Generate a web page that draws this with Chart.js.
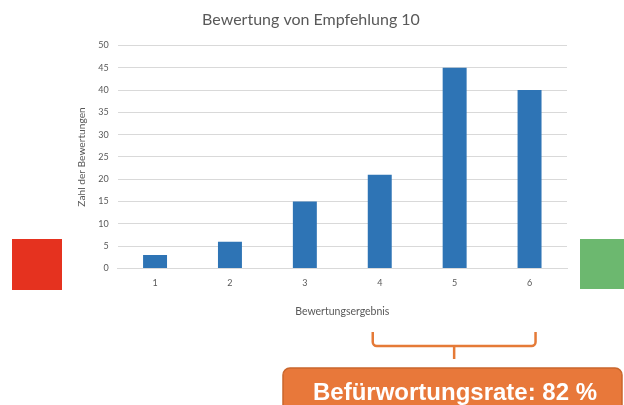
<!DOCTYPE html>
<html>
<head>
<meta charset="utf-8">
<script src="https://cdn.jsdelivr.net/npm/chart.js@4.4.0/dist/chart.umd.min.js"></script>
<style>
  html, body { margin: 0; padding: 0; background: #ffffff; overflow: hidden; }
  canvas { display: block; }
</style>
</head>
<body>
<canvas id="c" width="624" height="405"></canvas>
<script>
// Rating results for recommendation 10
const categories = ['1', '2', '3', '4', '5', '6'];
const counts = [3, 6, 15, 21, 45, 40];
const yMax = 50;
const yStep = 5;

const chartTitle = 'Bewertung von Empfehlung 10';
const xTitle = 'Bewertungsergebnis';
const yTitle = 'Zahl der Bewertungen';
const rateLabel = 'Befürwortungsrate';
// ratings counted as approval
const approvalCategories = ['4', '5', '6'];

const total = counts.reduce((a, b) => a + b, 0);
const approved = approvalCategories
  .map(c => counts[categories.indexOf(c)])
  .reduce((a, b) => a + b, 0);
const approvalRate = Math.round(approved / total * 100);

const labelFont = "Lato, 'Open Sans', sans-serif";
const gray = '#595959';

// Red/green end markers, the brace over the approval ratings and the rate box
const annotations = {
  id: 'annotations',
  afterDraw(chart) {
    const ctx = chart.ctx;
    const x = chart.scales.x;
    ctx.save();

    ctx.fillStyle = '#e5321f';
    ctx.fillRect(12, 239, 50, 51);
    ctx.fillStyle = '#6cb86f';
    ctx.fillRect(580, 239, 50, 50);

    const i0 = categories.indexOf(approvalCategories[0]);
    const i1 = categories.indexOf(approvalCategories[approvalCategories.length - 1]);
    const bl = x.getPixelForValue(i0) - 7;
    const br = x.getPixelForValue(i1) + 6;
    const mid = (bl + br) / 2;
    const top = 332, base = 346, r = 4;
    ctx.strokeStyle = '#e57a37';
    ctx.lineWidth = 2.5;
    ctx.lineCap = 'butt';
    ctx.beginPath();
    ctx.moveTo(bl, top);
    ctx.arcTo(bl, base, bl + r, base, r);
    ctx.lineTo(br - r, base);
    ctx.arcTo(br, base, br, top, r);
    ctx.lineTo(br, top);
    ctx.moveTo(mid, base);
    ctx.lineTo(mid, 359);
    ctx.stroke();

    ctx.beginPath();
    ctx.roundRect(283, 368, 339, 60, 7);
    ctx.fillStyle = '#e8783a';
    ctx.fill();
    ctx.strokeStyle = '#c9662c';
    ctx.lineWidth = 1.5;
    ctx.stroke();

    ctx.fillStyle = '#ffffff';
    ctx.font = "bold 24px 'Liberation Sans', Arial, sans-serif";
    ctx.textAlign = 'center';
    ctx.textBaseline = 'alphabetic';
    ctx.fillText(rateLabel + ': ' + approvalRate + ' %', 455, 400);
    ctx.restore();
  }
};

new Chart(document.getElementById('c'), {
  type: 'bar',
  data: {
    labels: categories,
    datasets: [{
      data: counts,
      backgroundColor: '#2e74b5',
      borderWidth: 0,
      categoryPercentage: 0.8,
      barPercentage: 0.4
    }]
  },
  options: {
    responsive: false,
    animation: false,
    devicePixelRatio: 1,
    layout: { padding: { left: 55, right: 57, top: 0, bottom: 87 } },
    plugins: {
      legend: { display: false },
      tooltip: { enabled: false },
      title: {
        display: true,
        text: chartTitle,
        color: gray,
        font: { family: labelFont, size: 16, weight: 'normal' },
        padding: { top: 10.4, bottom: 15.9 }
      }
    },
    scales: {
      x: {
        grid: { display: false, drawTicks: false },
        border: { display: true, color: '#d9d9d9', width: 1 },
        ticks: { color: gray, font: { family: labelFont, size: 9 }, padding: 9.6 },
        title: {
          display: true,
          text: xTitle,
          color: gray,
          font: { family: labelFont, size: 10.5 },
          padding: { top: 7, bottom: 0 }
        }
      },
      y: {
        min: 0,
        max: yMax,
        afterFit(scale) { scale.width = 62.6; },
        ticks: { stepSize: yStep, color: gray, font: { family: labelFont, size: 9 }, padding: 9 },
        grid: { color: '#d9d9d9', lineWidth: 1, drawTicks: false },
        border: { display: false },
        title: {
          display: true,
          text: yTitle,
          color: gray,
          font: { family: labelFont, size: 10.2 },
          padding: { top: 20.5, bottom: 0 }
        }
      }
    }
  },
  plugins: [annotations]
});
</script>
</body>
</html>
